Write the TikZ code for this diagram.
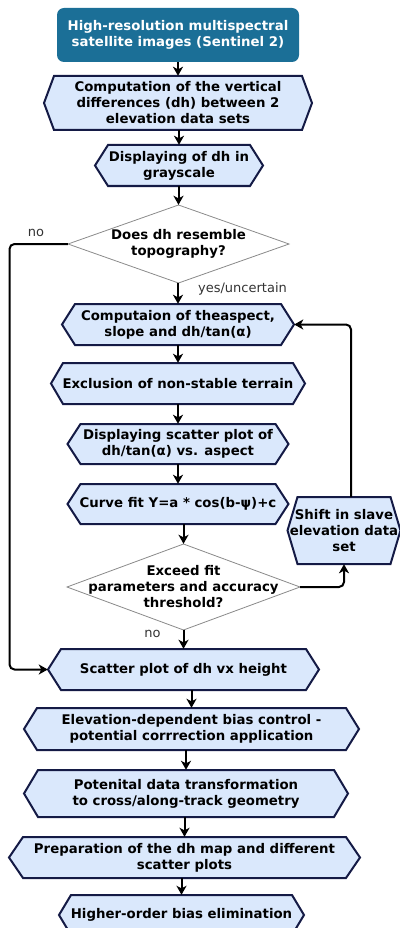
\documentclass[tikz,border=0pt]{standalone}
\usepackage{fontspec}
\setmainfont{DejaVu Sans}
\usetikzlibrary{arrows.meta,backgrounds}

\definecolor{topfill}{HTML}{1B6F97}
\definecolor{hexfill}{HTML}{DAE8FC}
\definecolor{hexline}{HTML}{141A45}
\definecolor{diamline}{HTML}{8A8A8A}
\definecolor{lbl}{HTML}{333333}

\tikzset{
  boxtext/.style={inner sep=0pt, align=center, text=black,
    font=\bfseries\fontsize{13.3}{16}\selectfont},
  hexshape/.style={fill=hexfill, draw=hexline, line width=2pt, line join=miter},
  diamshape/.style={fill=white, draw=diamline, line width=0.8pt},
  topbox/.style={boxtext, fill=topfill, text=white, rounded corners=7pt},
  arr/.style={draw=black, line width=2pt,
    -{Stealth[length=9pt,width=10pt,inset=2.5pt]}},
  loop/.style={arr, rounded corners=5pt},
  lab/.style={inner sep=0pt, text=lbl, font=\fontsize{13}{16}\selectfont},
}

% hexagonal process box: name, cx, cy, width, height, indent, text
\newcommand\hexat[7]{%
  \path[hexshape] ({#2-#4/2},{#3}) -- ({#2-#4/2+#6},{#3-#5/2})
    -- ({#2+#4/2-#6},{#3-#5/2}) -- ({#2+#4/2},{#3})
    -- ({#2+#4/2-#6},{#3+#5/2}) -- ({#2-#4/2+#6},{#3+#5/2}) -- cycle;
  \node[boxtext, minimum width=#4pt, minimum height=#5pt] (#1) at (#2,#3) {#7};
}
% decision diamond: name, cx, cy, width, height, text
\newcommand\diaat[6]{%
  \path[diamshape] ({#2-#4/2},{#3}) -- ({#2},{#3-#5/2})
    -- ({#2+#4/2},{#3}) -- ({#2},{#3+#5/2}) -- cycle;
  \node[boxtext, minimum width=#4pt, minimum height=#5pt] (#1) at (#2,#3) {#6};
}

\begin{document}
\begin{tikzpicture}[x=1pt,y=-1pt]
\useasboundingbox (0,0) rectangle (399,928);

\node[topbox, minimum width=242pt, minimum height=54pt] (src) at (178,35)
  {High-resolution multispectral\\satellite images (Sentinel 2)};

\hexat{dh}{178}{103}{268}{54}{10}{Computation of the vertical\\differences (dh) between 2\\elevation data sets}
\hexat{gray}{179}{165.5}{168}{41}{13}{Displaying of dh in\\grayscale}
\diaat{topo}{178.5}{244}{221}{78}{Does dh resemble\\topography?}
\hexat{aspect}{178}{324.5}{232}{41}{13}{Computaion of theaspect,\\slope and dh/tan(α)}
\hexat{excl}{178}{383.5}{254}{41}{12}{Exclusion of non-stable terrain}
\hexat{scat}{178}{444}{221}{40}{13}{Displaying scatter plot of\\dh/tan(α) vs. aspect}
\hexat{fit}{178}{504}{221}{40}{13}{Curve fit Y=a * cos(b-ψ)+c}
\diaat{thr}{183.5}{587}{233}{86}{Exceed fit\\parameters and accuracy\\threshold?}
\hexat{shift}{344}{530.5}{113}{67}{10}{Shift in slave\\elevation data\\set}
\hexat{height}{183.5}{669.5}{271}{41}{13}{Scatter plot of dh vx height}
\hexat{bias}{191.5}{729}{335}{42}{13}{Elevation-dependent bias control -\\potential corrrection application}
\hexat{geom}{186}{793.5}{324}{47}{14}{Potenital data transformation\\to cross/along-track geometry}
\hexat{prep}{184.5}{857.5}{351}{41}{14}{Preparation of the dh map and different\\scatter plots}
\hexat{high}{181.5}{915}{245}{40}{12}{Higher-order bias elimination}

% main vertical flow
\draw[arr] (src.south -| dh.north) -- (dh.north);
\draw[arr] (dh.south -| gray.north) -- (gray.north);
\draw[arr] (gray.south -| topo.north) -- (topo.north);
\draw[arr] (topo.south -| aspect.north) -- (aspect.north);
\draw[arr] (aspect.south -| excl.north) -- (excl.north);
\draw[arr] (excl.south -| scat.north) -- (scat.north);
\draw[arr] (scat.south -| fit.north) -- (fit.north);
\draw[arr] (fit.south -| thr.north) -- (thr.north);
\draw[arr] (thr.south -| height.north) -- (height.north);
\draw[arr] (height.south -| bias.north) -- (bias.north);
\draw[arr] (bias.south -| geom.north) -- (geom.north);
\draw[arr] (geom.south -| prep.north) -- (prep.north);
\draw[arr] (prep.south -| high.north) -- (high.north);

% side branches
\coordinate (nox) at (9.5,0);
\coordinate (loopx) at (351,0);
\draw[loop] (topo.west) -- (topo.west -| nox) -- (height.west -| nox) -- (height.west);
\draw[loop] (thr.east) -| (shift.south);
\draw[loop] (loopx |- shift.north) -- (loopx |- aspect.east) -- (aspect.east);

% branch labels
\node[lab] (lno1) at (36,233) {no};
\node[lab] (lyes) at (242.5,289) {yes/uncertain};
\node[lab] (lno2) at (152.5,634) {no};
\end{tikzpicture}
\end{document}
